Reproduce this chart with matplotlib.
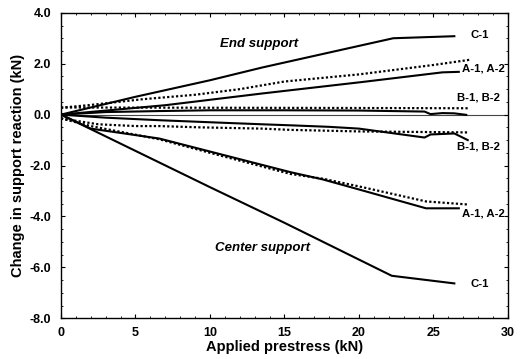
import matplotlib
matplotlib.use("Agg")
import matplotlib.pyplot as plt
from matplotlib.ticker import MultipleLocator

plt.rcParams['font.family'] = ['Liberation Sans', 'DejaVu Sans']
plt.rcParams['font.weight'] = 'bold'

# end support (positive), measured = solid, predicted = dotted
c1_end_x = [0, 5, 10, 13.5, 22.3, 26.4]
c1_end_y = [0, 0.7, 1.35, 1.85, 3.0, 3.08]
a_end_x = [0, 7, 13.5, 20.2, 25.6, 26.7]
a_end_y = [0, 0.37, 0.83, 1.28, 1.66, 1.68]
a_end_pred_x = [0, 2, 5.4, 9, 12, 15, 20, 25, 27.4]
a_end_pred_y = [0.27, 0.38, 0.6, 0.78, 1.0, 1.3, 1.58, 1.95, 2.15]
b_end_x = [0, 3, 6.6, 10, 15, 20, 24.4, 24.8, 25.6, 26.4, 27.2]
b_end_y = [0, 0.1, 0.14, 0.17, 0.17, 0.16, 0.12, 0.02, 0.06, 0.05, -0.01]
b_end_pred_x = [0, 10, 20, 27.4]
b_end_pred_y = [0.28, 0.27, 0.26, 0.25]

# center support (negative)
b_cen_x = [0, 3, 6.6, 10, 13.5, 15.4, 18, 20, 24.4, 24.8, 26.4, 27.3]
b_cen_y = [0, -0.12, -0.22, -0.3, -0.38, -0.42, -0.48, -0.55, -0.9, -0.78, -0.74, -1.0]
b_cen_pred_x = [0, 2.5, 5, 6.6, 9.3, 13.5, 15.4, 20, 27.4]
b_cen_pred_y = [-0.15, -0.38, -0.45, -0.45, -0.5, -0.55, -0.6, -0.66, -0.7]
a_cen_x = [0, 2, 6.6, 10, 15.4, 17.6, 20, 24.5, 26.7]
a_cen_y = [0, -0.55, -0.94, -1.45, -2.26, -2.55, -2.94, -3.68, -3.68]
a_cen_pred_x = [0, 2, 6.6, 10, 15.4, 17.6, 20, 24.5, 27.3]
a_cen_pred_y = [-0.15, -0.45, -0.97, -1.5, -2.33, -2.52, -2.82, -3.41, -3.53]
c1_cen_x = [0, 10, 15, 22.2, 26.4]
c1_cen_y = [0, -2.85, -4.25, -6.33, -6.63]

fig = plt.figure(figsize=(5.24, 3.59), dpi=100)
ax = fig.add_axes([0.1164, 0.1134, 0.853, 0.851])

ax.axhline(0, color='#444444', lw=0.8, zorder=1)

solid = dict(color='black', lw=1.5)
dotted = dict(color='black', lw=1.6, linestyle=(0, (1, 1)))

ax.plot(c1_end_x, c1_end_y, **solid)
ax.plot(a_end_x, a_end_y, **solid)
ax.plot(a_end_pred_x, a_end_pred_y, **dotted)
ax.plot(b_end_x, b_end_y, **solid)
ax.plot(b_end_pred_x, b_end_pred_y, **dotted)
ax.plot(b_cen_x, b_cen_y, **solid)
ax.plot(b_cen_pred_x, b_cen_pred_y, **dotted)
ax.plot(a_cen_x, a_cen_y, **solid)
ax.plot(a_cen_pred_x, a_cen_pred_y, **dotted)
ax.plot(c1_cen_x, c1_cen_y, **solid)

fs = 8.2
ax.text(27.5, 3.12, 'C-1', fontsize=fs, fontweight='bold', va='center')
ax.text(26.9, 1.8, 'A-1, A-2', fontsize=fs, fontweight='bold', va='center')
ax.text(26.6, 0.68, 'B-1, B-2', fontsize=fs, fontweight='bold', va='center')
ax.text(26.6, -1.27, 'B-1, B-2', fontsize=fs, fontweight='bold', va='center')
ax.text(26.9, -3.88, 'A-1, A-2', fontsize=fs, fontweight='bold', va='center')
ax.text(27.5, -6.65, 'C-1', fontsize=fs, fontweight='bold', va='center')
ax.text(13.3, 2.77, 'End support', fontsize=9.5, fontweight='bold',
        style='italic', ha='center', va='center')
ax.text(13.5, -5.23, 'Center support', fontsize=9.5, fontweight='bold',
        style='italic', ha='center', va='center')

ax.set_xlim(0, 30)
ax.set_ylim(-8, 4)
ax.set_xticks([0, 5, 10, 15, 20, 25, 30])
ax.set_yticks([-8, -6, -4, -2, 0, 2, 4])
ax.set_yticklabels(['-8.0', '-6.0', '-4.0', '-2.0', '0.0', '2.0', '4.0'])
ax.xaxis.set_minor_locator(MultipleLocator(1))
ax.yaxis.set_minor_locator(MultipleLocator(0.5))
ax.tick_params(which='both', direction='in', top=True, right=True,
               labelsize=9)
ax.tick_params(axis='x', which='major', pad=6)
ax.tick_params(axis='y', which='major', pad=7)
ax.tick_params(which='major', length=3)
ax.tick_params(which='minor', length=1.5)
for lbl in ax.get_xticklabels() + ax.get_yticklabels():
    lbl.set_fontweight('bold')
for s in ax.spines.values():
    s.set_linewidth(1.0)

ax.set_xlabel('Applied prestress (kN)', fontsize=10.5, fontweight='bold', labelpad=1)
ax.set_ylabel('Change in support reaction (kN)', fontsize=10.5, fontweight='bold', labelpad=3)

fig.savefig('out.png', dpi=100)
